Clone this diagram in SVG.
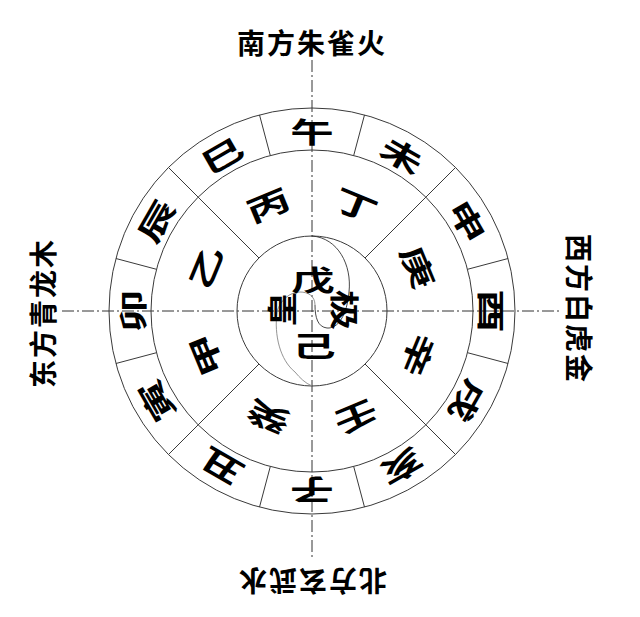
<svg xmlns="http://www.w3.org/2000/svg" width="640" height="617" viewBox="0 0 640 617">
<style>
.bg{fill:#ffffff}
.ring{fill:none;stroke:#3a3a3a;stroke-width:1}
.div{stroke:#3a3a3a;stroke-width:1}
.axis{stroke:#333;stroke-width:1;stroke-dasharray:12 3 2 3}
.yy1{fill:none;stroke:#333;stroke-width:0.9}
.yy2{fill:none;stroke:#888;stroke-width:0.9}
.ch{font-family:"Noto Sans CJK SC","Noto Sans CJK TC",sans-serif;font-size:29px;font-weight:700;fill:#000;text-anchor:middle;dominant-baseline:central}
.lb{font-family:"Noto Sans CJK SC","Noto Sans CJK TC",sans-serif;font-size:28px;font-weight:700;fill:#000;text-anchor:middle;dominant-baseline:central;letter-spacing:2px}
</style>
<rect class="bg" x="0" y="0" width="640" height="617"/>
<g id="connectors">
  <line class="axis" x1="312" y1="60" x2="312" y2="560"/>
  <line class="axis" x1="62" y1="311" x2="560" y2="311"/>
  <line class="div" x1="365" y1="258" x2="455.5" y2="167.5"/>
  <line class="div" x1="365" y1="364" x2="455.5" y2="454.5"/>
  <line class="div" x1="259" y1="364" x2="168.5" y2="454.5"/>
  <line class="div" x1="259" y1="258" x2="168.5" y2="167.5"/>
  <line class="div" x1="353.7" y1="155.5" x2="364.5" y2="114.9"/>
  <line class="div" x1="467.5" y1="269.3" x2="508.1" y2="258.5"/>
  <line class="div" x1="467.5" y1="352.7" x2="508.1" y2="363.5"/>
  <line class="div" x1="353.7" y1="466.5" x2="364.5" y2="507.1"/>
  <line class="div" x1="270.3" y1="466.5" x2="259.5" y2="507.1"/>
  <line class="div" x1="156.5" y1="352.7" x2="115.9" y2="363.5"/>
  <line class="div" x1="156.5" y1="269.3" x2="115.9" y2="258.5"/>
  <line class="div" x1="270.3" y1="155.5" x2="259.5" y2="114.9"/>
</g>
<g id="rings">
  <circle class="ring" cx="312" cy="311" r="203"/>
  <circle class="ring" cx="312" cy="311" r="161"/>
  <circle class="ring" cx="312" cy="311" r="75"/>
  <path class="yy1" d="M312 236 C338 238,352 265,349 292 C347 315,338 329,327 328 C318 327,315 318,315 305"/>
  <path class="yy2" d="M315 305 C315 296,308 292,300 292 C290 292,280 300,277 312 C274 335,280 360,295 372 C300 378,305 383,312 386"/>
</g>
<g id="branches">
  <g id="b-wu" transform="translate(312,130) rotate(0) scale(1.5,1)"><text class="ch">午</text></g>
  <g id="b-wei" transform="translate(402.5,154.3) rotate(30) scale(1.5,1)"><text class="ch">未</text></g>
  <g id="b-shen" transform="translate(468.7,220.5) rotate(60) scale(1.5,1)"><text class="ch">申</text></g>
  <g id="b-you" transform="translate(493,311) rotate(90) scale(1.5,1)"><text class="ch">酉</text></g>
  <g id="b-xu" transform="translate(468.7,401.5) rotate(120) scale(1.5,1)"><text class="ch">戌</text></g>
  <g id="b-hai" transform="translate(402.5,467.7) rotate(150) scale(1.5,1)"><text class="ch">亥</text></g>
  <g id="b-zi" transform="translate(312,492) rotate(180) scale(1.5,1)"><text class="ch">子</text></g>
  <g id="b-chou" transform="translate(221.5,467.7) rotate(210) scale(1.5,1)"><text class="ch">丑</text></g>
  <g id="b-yin" transform="translate(155.3,401.5) rotate(240) scale(1.5,1)"><text class="ch">寅</text></g>
  <g id="b-mao" transform="translate(131,311) rotate(270) scale(1.5,1)"><text class="ch">卯</text></g>
  <g id="b-chen" transform="translate(155.3,220.5) rotate(300) scale(1.5,1)"><text class="ch">辰</text></g>
  <g id="b-si" transform="translate(221.5,154.3) rotate(330) scale(1.5,1)"><text class="ch">巳</text></g>
</g>
<g id="stems">
  <g id="s-bing" transform="translate(267.6,203.8) rotate(-22.5) scale(1.5,1)"><text class="ch">丙</text></g>
  <g id="s-ding" transform="translate(356.4,203.8) rotate(22.5) scale(1.5,1)"><text class="ch">丁</text></g>
  <g id="s-geng" transform="translate(419.2,266.6) rotate(67.5) scale(1.5,1)"><text class="ch">庚</text></g>
  <g id="s-xin" transform="translate(419.2,355.4) rotate(112.5) scale(1.5,1)"><text class="ch">辛</text></g>
  <g id="s-ren" transform="translate(356.4,418.2) rotate(157.5) scale(1.5,1)"><text class="ch">壬</text></g>
  <g id="s-gui" transform="translate(267.6,418.2) rotate(202.5) scale(1.5,1)"><text class="ch">癸</text></g>
  <g id="s-jia" transform="translate(204.8,355.4) rotate(247.5) scale(1.5,1)"><text class="ch">甲</text></g>
  <g id="s-yi" transform="translate(204.8,266.6) rotate(292.5) scale(1.5,1)"><text class="ch">乙</text></g>
</g>
<g id="center">
  <g id="c-wu" transform="translate(313,278) scale(1.5,1)"><text class="ch">戊</text></g>
  <g id="c-ji" transform="translate(314,344) scale(1.5,1)"><text class="ch">己</text></g>
  <g id="c-huang" transform="translate(280,309) rotate(-90) scale(1.15,1)"><text class="ch" style="font-size:30px">皇</text></g>
  <g id="c-jiex" transform="translate(346,310) rotate(90) scale(1.4,1)"><text class="ch">极</text></g>
</g>
<g id="labels">
  <g id="l-south" transform="translate(312,42)"><text class="lb">南方朱雀火</text></g>
  <g id="l-north" transform="translate(312,582) rotate(180)"><text class="lb">北方玄武水</text></g>
  <g id="l-east" transform="translate(42,313) rotate(-90)"><text class="lb">东方青龙木</text></g>
  <g id="l-west" transform="translate(580,309) rotate(90)"><text class="lb">西方白虎金</text></g>
</g>
</svg>
